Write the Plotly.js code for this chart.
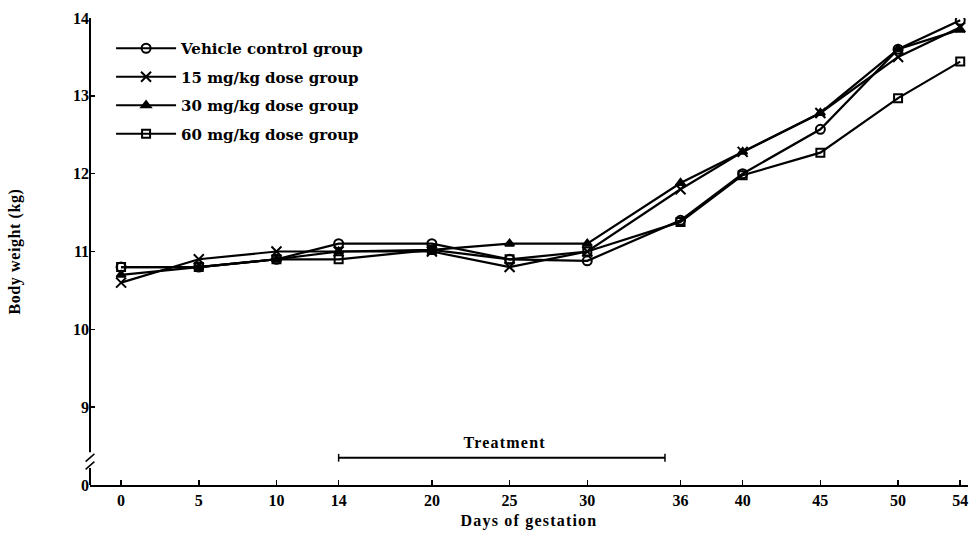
<!DOCTYPE html>
<html>
<head>
<meta charset="utf-8">
<script src="https://cdn.plot.ly/plotly-3.0.1.min.js"></script>
<style>
html,body{margin:0;padding:0;background:#fff;}
#chart{width:978px;height:537px;}
#chart .xtitle, #chart .annotation-text{letter-spacing:1.2px;}
#chart .ytitle{letter-spacing:0.6px;}
</style>
</head>
<body>
<div id="chart"></div>
<script>
const days = [0, 5, 10, 14, 20, 25, 30, 36, 40, 45, 50, 54];
const vehicle = [10.8, 10.8, 10.9, 11.1, 11.1, 10.9, 10.88, 11.4, 12.0, 12.57, 13.6, 13.97];
const dose15 = [10.6, 10.9, 11.0, 11.0, 11.0, 10.8, 11.0, 11.8, 12.28, 12.78, 13.5, 13.88];
const dose30 = [10.7, 10.8, 10.9, 11.0, 11.02, 11.1, 11.1, 11.88, 12.28, 12.78, 13.6, 13.85];
const dose60 = [10.8, 10.8, 10.9, 10.9, 11.02, 10.9, 11.0, 11.38, 11.98, 12.27, 12.97, 13.44];
const seriesNames = ["Vehicle control group", "15 mg/kg dose group", "30 mg/kg dose group", "60 mg/kg dose group"];
const yTickVals = [8, 9, 10, 11, 12, 13, 14];
const yTickText = ["0", "9", "10", "11", "12", "13", "14"];
const treatmentStart = 14, treatmentEnd = 35, treatmentLevel = 8.35;

const FONT = "Liberation Serif, Times New Roman, serif";
const LFONT = "DejaVu Serif, Liberation Serif, serif";
const symbols = ["circle-open", "x-thin-open", "triangle-up", "square-open"];
const sizes = [9, 10, 8, 8];
const data = [vehicle, dose15, dose30, dose60].map((ys, i) => ({
  x: days, y: ys, type: "scatter", mode: "lines+markers",
  name: seriesNames[i], legendgroup: "g" + i,
  line: {color: "#000", width: 2.2},
  marker: {symbol: symbols[i], size: sizes[i], color: "#000", line: {color: "#000", width: 2}}
}));

const shapes = [
  {type: "line", xref: "paper", yref: "y", x0: 0, x1: 0, y0: 8.42, y1: 14, line: {color: "#000", width: 2}},
  {type: "line", xref: "paper", yref: "y", x0: 0, x1: 0, y0: 8.0, y1: 8.22, line: {color: "#000", width: 2}},
  {type: "line", xref: "paper", yref: "y", x0: -0.005, x1: 0.005, y0: 8.3, y1: 8.4, line: {color: "#000", width: 1.5}},
  {type: "line", xref: "paper", yref: "y", x0: -0.005, x1: 0.005, y0: 8.2, y1: 8.3, line: {color: "#000", width: 1.5}},
  {type: "line", xref: "x", yref: "y", x0: treatmentStart, x1: treatmentEnd, y0: treatmentLevel, y1: treatmentLevel, line: {color: "#000", width: 1.8}},
  {type: "line", xref: "x", yref: "y", x0: treatmentStart, x1: treatmentStart, y0: treatmentLevel - 0.05, y1: treatmentLevel + 0.05, line: {color: "#000", width: 1.5}},
  {type: "line", xref: "x", yref: "y", x0: treatmentEnd, x1: treatmentEnd, y0: treatmentLevel - 0.05, y1: treatmentLevel + 0.05, line: {color: "#000", width: 1.5}}
];

const layout = {
  width: 978, height: 537,
  margin: {l: 90, r: 10, t: 18, b: 52},
  paper_bgcolor: "#fff", plot_bgcolor: "#fff",
  font: {family: FONT, color: "#000", size: 16},
  showlegend: true,
  legend: {x: 0.024, y: 0.97, xanchor: "left", yanchor: "top", bgcolor: "rgba(0,0,0,0)",
    itemwidth: 60,
    font: {family: LFONT, size: 15, weight: "bold"}, traceorder: "grouped", tracegroupgap: 6},
  xaxis: {
    range: [-2, 54.5], tickvals: days, ticktext: days.map(String),
    showgrid: false, zeroline: false, showline: true, linecolor: "#000", linewidth: 2,
    ticks: "inside", ticklen: 5, tickwidth: 1.5, tickcolor: "#000",
    tickfont: {family: FONT, size: 16, weight: "bold"},
    title: {text: "Days of gestation", font: {family: FONT, size: 16, weight: "bold"}, standoff: 7}
  },
  yaxis: {
    range: [8, 14], tickvals: yTickVals, ticktext: yTickText,
    showgrid: false, zeroline: false, showline: false,
    ticks: "inside", ticklen: 5, tickwidth: 1.5, tickcolor: "#000",
    tickfont: {family: FONT, size: 16, weight: "bold"},
    title: {text: "Body weight (kg)", font: {family: FONT, size: 16, weight: "bold"}, standoff: 48}
  },
  shapes: shapes,
  annotations: [{
    x: (treatmentStart + treatmentEnd) / 2 + 0.2, y: treatmentLevel + 0.2, xref: "x", yref: "y",
    text: "Treatment", showarrow: false, font: {family: FONT, size: 16, weight: "bold"}
  }]
};

Plotly.newPlot("chart", data, layout, {displayModeBar: false, staticPlot: true});
</script>
</body>
</html>
